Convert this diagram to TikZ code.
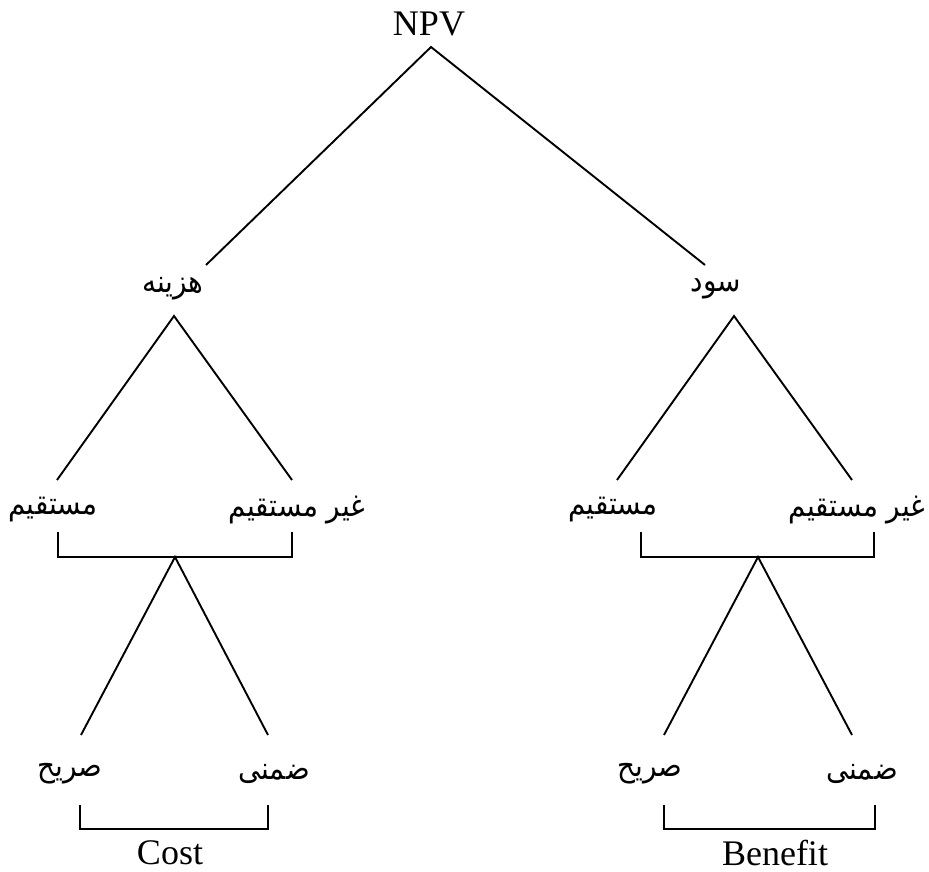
\documentclass[tikz,border=0pt]{standalone}
\usepackage{fontspec}
\setmainfont{Liberation Serif}
\newfontfamily\arabicfont[Script=Arabic,FakeStretch=0.9]{DejaVu Sans}
\TeXXeTstate=1
\begin{document}
\begin{tikzpicture}[x=1pt,y=-1pt,
  lat/.style={font=\fontsize{36}{40}\selectfont, inner sep=0pt},
  fa/.style={font=\arabicfont\fontsize{31}{36}\selectfont, inner sep=0pt},
  conn/.style={draw, line width=1.9pt, line cap=butt, line join=miter}]
\useasboundingbox (0,0) rectangle (929,872);
% texts
\node[lat] (npv) at (429,24) {NPV};
\node[fa] (haz) at (173,289) {\beginR هزینه\endR};
\node[fa] (sod) at (716,289) {\beginR سود\endR};
\node[fa] (m1) at (53,510) {\beginR مستقیم\endR};
\node[fa] (g1) at (297,510) {\beginR غیر مستقیم\endR};
\node[fa] (m2) at (613,510) {\beginR مستقیم\endR};
\node[fa] (g2) at (857,510) {\beginR غیر مستقیم\endR};
\node[fa] (s1) at (70,774) {\beginR صریح\endR};
\node[fa] (z1) at (274,774) {\beginR ضمنی\endR};
\node[fa] (s2) at (650,774) {\beginR صریح\endR};
\node[fa] (z2) at (862,774) {\beginR ضمنی\endR};
\node[lat] (cost) at (170,853) {Cost};
\node[lat] (ben) at (775,853) {Benefit};
% coordinates
\coordinate (a0) at (431,47);
\coordinate (e1) at (206,265);
\coordinate (e2) at (705,265);
\coordinate (ha) at (174,316);
\coordinate (hl) at (57,480);
\coordinate (hr) at (292,480);
\coordinate (sa) at (734,316);
\coordinate (sl) at (617,480);
\coordinate (sr) at (852,480);
% top
\draw[conn] (e1) -- (a0) -- (e2);
\draw[conn] (hl) -- (ha) -- (hr);
\draw[conn] (sl) -- (sa) -- (sr);
% brackets row 2
\coordinate (b1l) at (58,532);
\coordinate (b1r) at (292,532);
\coordinate (b1c) at (175,557);
\coordinate (b2l) at (641,532);
\coordinate (b2r) at (874,532);
\coordinate (b2c) at (758,557);
\draw[conn] (b1l) |- (b1c) -| (b1r);
\draw[conn] (b2l) |- (b2c) -| (b2r);
% lower branches
\coordinate (l1) at (81,735);
\coordinate (r1) at (268,735);
\coordinate (l2) at (664,735);
\coordinate (r2) at (852,735);
\draw[conn] (l1) -- (b1c) -- (r1);
\draw[conn] (l2) -- (b2c) -- (r2);
% brackets row 3
\coordinate (c1l) at (80,805);
\coordinate (c1r) at (268,805);
\coordinate (c1c) at (174,829);
\coordinate (c2l) at (664,805);
\coordinate (c2r) at (875,805);
\coordinate (c2c) at (770,829);
\draw[conn] (c1l) |- (c1c) -| (c1r);
\draw[conn] (c2l) |- (c2c) -| (c2r);
\end{tikzpicture}
\end{document}
